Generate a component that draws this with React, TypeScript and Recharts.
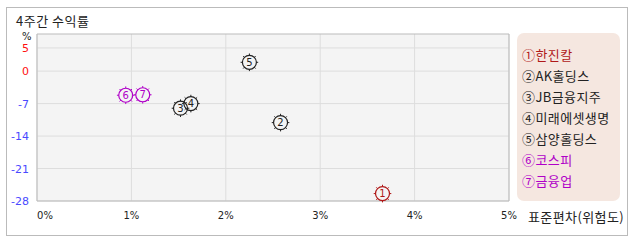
import React from 'react';
import { ScatterChart, Scatter, XAxis, YAxis, CartesianGrid, ReferenceArea } from 'recharts';

const names = ['한진칼', 'AK홀딩스', 'JB금융지주', '미래에셋생명', '삼양홀딩스', '코스피', '금융업'];
const marks = ['①', '②', '③', '④', '⑤', '⑥', '⑦'];
const stdDev = [3.66, 2.58, 1.52, 1.63, 2.25, 0.94, 1.12];
const returns = [-26.4, -11.1, -8.0, -7.0, 1.9, -5.2, -5.1];
const colors = ['#b01818', '#222222', '#222222', '#222222', '#222222', '#b000c8', '#b000c8'];
const xTicks = [0, 1, 2, 3, 4, 5];
const yTicks = [5, 0, -7, -14, -21, -28];

const FONT = '"Noto Sans CJK KR", "DejaVu Sans", sans-serif';
const NUMFONT = '"DejaVu Sans", sans-serif';

const makeShape = (num: number, color: string) => (props: any) => {
  const { cx, cy } = props;
  const r = 7;
  const ticks = [];
  for (let i = 0; i < 8; i++) {
    const a = (Math.PI / 4) * i;
    ticks.push(
      <line key={i} x1={cx + Math.cos(a) * r} y1={cy + Math.sin(a) * r} x2={cx + Math.cos(a) * (r + 1.8)} y2={cy + Math.sin(a) * (r + 1.8)} stroke={color} strokeWidth={1} />
    );
  }
  return (
    <g>
      <circle cx={cx} cy={cy} r={r} fill="none" stroke={color} strokeWidth={1.2} />
      {ticks}
      <text x={cx} y={cy + 3.5} textAnchor="middle" fontSize={10} fontFamily={NUMFONT} fill={color}>{num}</text>
    </g>
  );
};

const XTick = (props: any) => {
  const { x, y, payload } = props;
  const anchor = payload.value === 0 ? 'start' : 'middle';
  return (
    <text x={x} y={y + 10} textAnchor={anchor} fontSize={10} fontFamily={NUMFONT} fill="#222">{payload.value}%</text>
  );
};

const YTick = (props: any) => {
  const { x, y, payload } = props;
  return (
    <text x={x} y={y + 4} textAnchor="end" fontSize={11} fontFamily={NUMFONT} fill={payload.value >= 0 ? '#ff1010' : '#4a4aff'}>{payload.value}</text>
  );
};

export default function App() {
  return (
    <div style={{ position: 'absolute', left: 0, top: 0, width: 638, height: 242, background: '#fff' }}>
      <div style={{ position: 'absolute', left: 6, top: 7, width: 620, height: 227, border: '1px solid #bbbbbb' }} />
      <div style={{ position: 'absolute', left: 16, top: 14, fontSize: 13, lineHeight: '14px', fontFamily: FONT, color: '#222', letterSpacing: 0.5 }}>4주간 수익률</div>
      <div style={{ position: 'absolute', left: 22, top: 31, fontSize: 10, lineHeight: '11px', fontFamily: NUMFONT, color: '#222' }}>%</div>
      <div style={{ position: 'absolute', left: 528, top: 210, fontSize: 13, lineHeight: '14px', fontFamily: FONT, color: '#222', letterSpacing: 0.4 }}>표준편차(위험도)</div>
      <div style={{ position: 'absolute', left: 0, top: 0 }}>
        <ScatterChart width={638} height={242} margin={{ top: 34, right: 129, bottom: 21, left: 7 }}>
          <CartesianGrid stroke="#dddddd" fill="#f4f4f4" horizontalValues={yTicks} verticalValues={xTicks} />
          <XAxis type="number" dataKey="x" domain={[0, 5]} ticks={xTicks} tick={<XTick />} tickLine={false} axisLine={false} height={20} interval={0} />
          <YAxis type="number" dataKey="y" domain={[-28, 8]} ticks={yTicks} tick={<YTick />} tickLine={false} axisLine={false} width={30} interval={0} />
          <ReferenceArea x1={0} x2={5} y1={-28} y2={8} fill="none" fillOpacity={0} stroke="#bbbbbb" strokeWidth={1} />
          {names.map((n, i) => (
            <Scatter key={n} name={n} data={[{ x: stdDev[i], y: returns[i] }]} shape={makeShape(i + 1, colors[i])} isAnimationActive={false} />
          ))}
        </ScatterChart>
      </div>
      <div style={{ position: 'absolute', left: 517, top: 33, width: 103, height: 168, background: '#f5e7e0', borderRadius: 7, boxSizing: 'border-box', paddingTop: 11, paddingLeft: 5 }}>
        {names.map((n, i) => (
          <div key={n} style={{ color: colors[i], fontSize: 13, fontFamily: FONT, height: 21, lineHeight: '21px', whiteSpace: 'nowrap', letterSpacing: 0.4 }}>
            {marks[i]}{n}
          </div>
        ))}
      </div>
    </div>
  );
}
